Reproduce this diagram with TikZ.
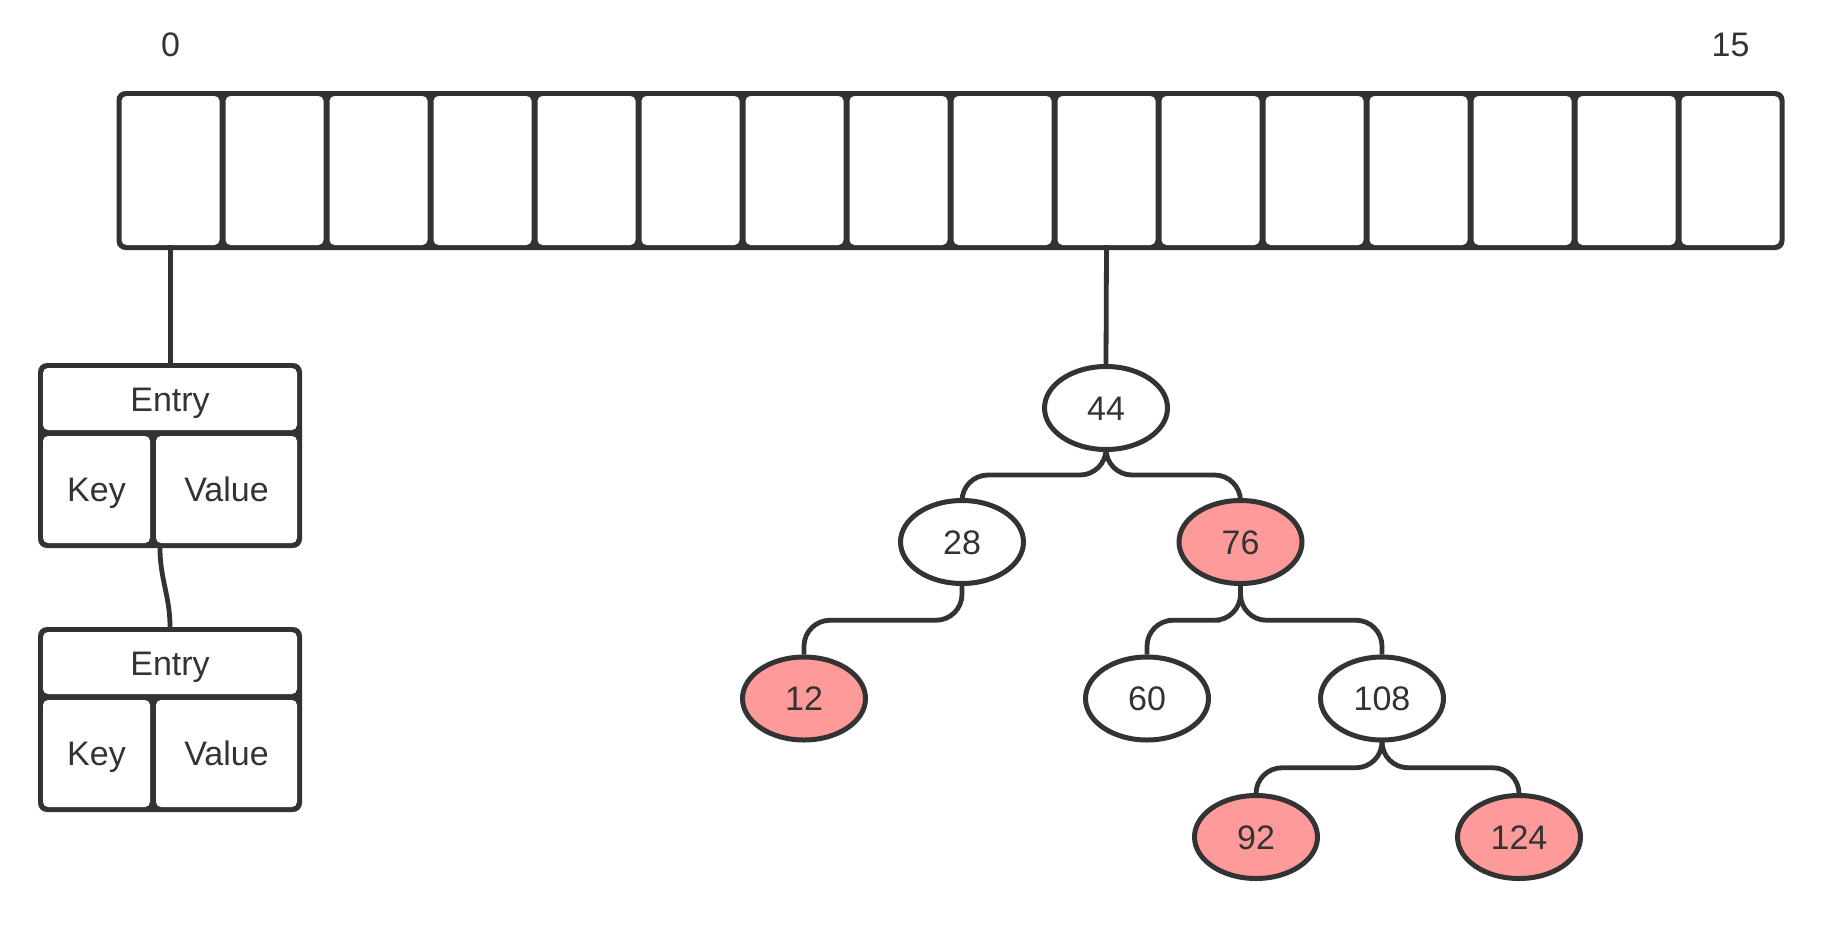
\documentclass[tikz,border=0pt]{standalone}
\usepackage{fontspec}
\setmainfont{Liberation Sans}
\usetikzlibrary{shapes.geometric,calc}
\definecolor{ink}{HTML}{333333}
\definecolor{redfill}{HTML}{FF9A9A}
\begin{document}
\begin{tikzpicture}[x=1pt,y=-1pt,
  txt/.style={font=\fontsize{34}{40}\selectfont, text=ink, text height=24pt, text depth=0pt, inner sep=0pt},
  darkframe/.style={fill=ink, rounded corners=9pt, inner sep=0pt, draw=none},
  cellw/.style={txt, fill=white, rounded corners=5pt, inner sep=0pt},
  rbnode/.style={txt, ellipse, draw=ink, line width=5pt, fill=white, minimum width=123pt, minimum height=83pt, inner sep=0pt},
  rednode/.style={rbnode, fill=redfill},
  link/.style={draw=ink, line width=4.8pt},
  treeedge/.style={link, rounded corners=26pt}
]
\useasboundingbox[fill=white] (0,0) rectangle (1844,940);

% array of 16 buckets
\node[darkframe, minimum width=1668pt, minimum height=159pt] (arr) at (950.5,170.5) {};
\foreach \i in {0,...,15}
  \node[cellw, minimum width=98pt, minimum height=149pt] (c\i) at ({170.5+104*\i},170.5) {};
\node[txt] (l0) at (170.5,44.7) {0};
\node[txt] (l15) at (1730.5,44.7) {15};

% entry 1
\node[darkframe, minimum width=264pt, minimum height=185pt] (e1) at (170,455.5) {};
\node[cellw, minimum width=254pt, minimum height=62pt] (e1h) at (170,399) {Entry};
\node[cellw, minimum width=107pt, minimum height=107pt] (e1k) at (96.5,489.5) {Key};
\node[cellw, minimum width=141pt, minimum height=107pt] (e1v) at (226.5,489.5) {Value};

% entry 2
\node[darkframe, minimum width=264pt, minimum height=185pt] (e2) at (170,719.5) {};
\node[cellw, minimum width=254pt, minimum height=62pt] (e2h) at (170,663) {Entry};
\node[cellw, minimum width=107pt, minimum height=107pt] (e2k) at (96.5,753.5) {Key};
\node[cellw, minimum width=141pt, minimum height=107pt] (e2v) at (226.5,753.5) {Value};

% red-black tree
\node[rbnode]  (n44)  at (1106,408)    {44};
\node[rbnode]  (n28)  at (962,542)     {28};
\node[rednode] (n76)  at (1240.5,542)  {76};
\node[rednode] (n12)  at (804,698.5)   {12};
\node[rbnode]  (n60)  at (1147,698.5)  {60};
\node[rbnode]  (n108) at (1382,698.5)  {108};
\node[rednode] (n92)  at (1256,837)    {92};
\node[rednode] (n124) at (1519,837)    {124};

% connectors
\draw[link] (c0.south) -- (c0.south |- e1.north);
\draw[link] ([xshift=-10pt]e1.south) to[out=-90,in=90] (e2.north);
\draw[link] (c9.south) -- (n44.north);
\foreach \a/\b in {n44/n28, n44/n76, n28/n12, n76/n60, n76/n108, n108/n92, n108/n124}
  \draw[treeedge] (\a.south) |- ($(\a.south)!0.5!(\b.north)$) -| (\b.north);
\end{tikzpicture}
\end{document}
